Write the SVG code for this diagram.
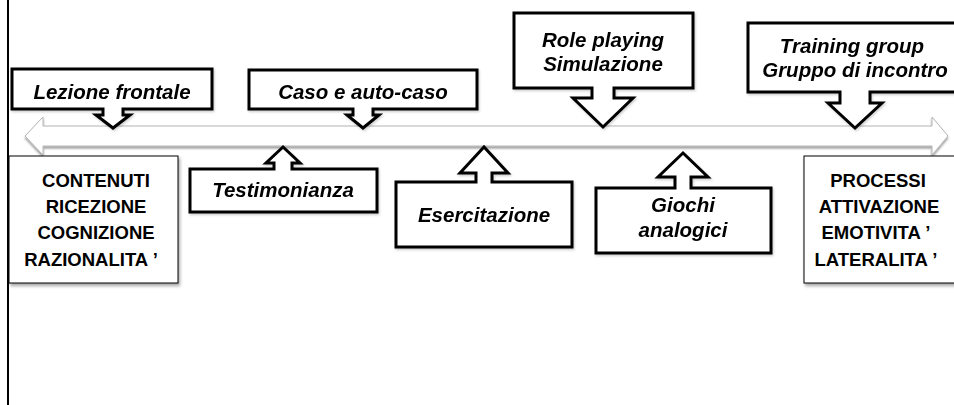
<svg xmlns="http://www.w3.org/2000/svg" width="954" height="405" viewBox="0 0 954 405">
<style>
.co{fill:#fff;stroke:#000;stroke-width:3;stroke-linejoin:miter}
.bx{fill:#fff;stroke:#000;stroke-width:1}
.ti{font-family:"Liberation Sans",Arial,sans-serif;font-weight:bold;font-style:italic;font-size:20.5px;fill:#000;text-anchor:middle}
.tb{font-family:"Liberation Sans",Arial,sans-serif;font-weight:bold;font-size:18.5px;fill:#000;text-anchor:middle}
</style>
<defs>
<filter id="sh" x="-10%" y="-10%" width="130%" height="150%">
<feDropShadow dx="1.5" dy="2.5" stdDeviation="1.5" flood-color="#000" flood-opacity="0.35"/>
</filter>
<filter id="csh" x="-10%" y="-10%" width="130%" height="150%">
<feDropShadow dx="1" dy="1.5" stdDeviation="1" flood-color="#000" flood-opacity="0.2"/>
</filter>
<filter id="ash" x="-5%" y="-30%" width="110%" height="170%">
<feDropShadow dx="0" dy="2" stdDeviation="1.2" flood-color="#000" flood-opacity="0.4"/>
</filter>
</defs>
<line x1="8" y1="0" x2="8" y2="405" stroke="#000" stroke-width="2"/>
<g id="connectors">
<path id="timeline" d="M25,136 L43,117 V126 H932 V117 L948,136 L932,155 V146 H43 V155 Z" fill="#fff" stroke="#b4b4b4" stroke-width="1" filter="url(#ash)"/>
</g>
<g id="contenuti">
<rect class="bx" x="9" y="156" width="169" height="127" filter="url(#sh)"/>
<text class="tb" x="96" y="187">CONTENUTI</text>
<text class="tb" x="96" y="213">RICEZIONE</text>
<text class="tb" x="96" y="239">COGNIZIONE</text>
<text class="tb" x="91" y="266">RAZIONALITA ’</text>
</g>
<g id="processi">
<rect class="bx" x="804" y="156" width="160" height="127" filter="url(#sh)"/>
<text class="tb" x="878" y="187">PROCESSI</text>
<text class="tb" x="879" y="213">ATTIVAZIONE</text>
<text class="tb" x="876" y="239">EMOTIVITA ’</text>
<text class="tb" x="876" y="266">LATERALITA ’</text>
</g>
<g id="lezione" filter="url(#csh)">
<path class="co" d="M12,69 H212 V109 H123 V115 H130 L113,128 L96,115 H103 V109 H12 Z"/>
<text class="ti" x="112" y="99">Lezione frontale</text>
</g>
<g id="caso" filter="url(#csh)">
<path class="co" d="M249,70 H477 V109 H373 V115 H379 L363,128 L347,115 H353 V109 H249 Z"/>
<text class="ti" x="363" y="99">Caso e auto-caso</text>
</g>
<g id="role" filter="url(#csh)">
<path class="co" d="M514,13 H693 V88 H614 V98 H633 L603,127 L573,98 H592 V88 H514 Z"/>
<text class="ti" x="603" y="47">Role playing</text>
<text class="ti" x="603" y="71">Simulazione</text>
</g>
<g id="training" filter="url(#csh)">
<path class="co" d="M748,23 H958 V92 H870 V103 H882 L855,128 L828,103 H840 V92 H748 Z"/>
<text class="ti" x="852" y="53">Training group</text>
<text class="ti" x="855" y="77">Gruppo di incontro</text>
</g>
<g id="testimonianza" filter="url(#csh)">
<path class="co" d="M190,212 H377 V169 H292 V163 H300 L283,147 L266,163 H274 V169 H190 Z"/>
<text class="ti" x="283" y="197">Testimonianza</text>
</g>
<g id="esercitazione" filter="url(#csh)">
<path class="co" d="M396,247 H572 V182 H492 V173 H508 L484,147 L460,173 H476 V182 H396 Z"/>
<text class="ti" x="484" y="222">Esercitazione</text>
</g>
<g id="giochi" filter="url(#csh)">
<path class="co" d="M596,253 H771 V188 H691 V177 H708 L683,153 L658,177 H675 V188 H596 Z"/>
<text class="ti" x="683" y="212">Giochi</text>
<text class="ti" x="683" y="237">analogici</text>
</g>
</svg>
